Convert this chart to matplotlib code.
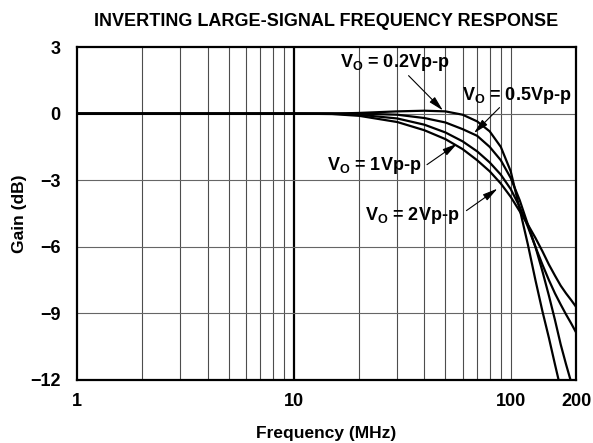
import numpy as np
import matplotlib.pyplot as plt

plt.rcParams['font.family'] = ['Liberation Sans', 'DejaVu Sans']
plt.rcParams['font.weight'] = 'bold'
plt.rcParams['mathtext.fontset'] = 'custom'
plt.rcParams['mathtext.rm'] = 'Liberation Sans:bold'
plt.rcParams['mathtext.default'] = 'rm'

# frequency points (MHz) and gain (dB)
freq = [1, 10, 15, 20, 30, 40, 50, 60, 70, 80, 90, 100, 110, 120, 130, 140, 150, 160, 170, 180, 190, 200]
g_02 = [0, 0, 0, 0.03, 0.1, 0.13, 0.1, -0.05, -0.35, -0.8, -1.5, -2.6, -4.3, -5.9, -7.5, -8.9, -10.1, -11.3, -12.4, -13.4, -14.4, -15.3]
g_05 = [0, 0, 0, 0, -0.05, -0.2, -0.4, -0.7, -1.0, -1.5, -2.1, -2.9, -3.9, -5.0, -6.0, -7.1, -8.2, -9.3, -10.4, -11.3, -12.1, -12.9]
g_1 = [0, 0, 0, -0.05, -0.22, -0.5, -0.85, -1.25, -1.7, -2.2, -2.75, -3.4, -4.2, -5.1, -6.0, -6.8, -7.5, -8.1, -8.6, -9.05, -9.45, -9.85]
g_2 = [0, 0, -0.02, -0.1, -0.38, -0.75, -1.15, -1.6, -2.1, -2.6, -3.15, -3.75, -4.4, -5.0, -5.6, -6.2, -6.8, -7.3, -7.75, -8.1, -8.4, -8.7]

xticks = [1, 10, 100, 200]
xtick_labels = ['1', '10', '100', '200']
yticks = [3, 0, -3, -6, -9, -12]
ytick_labels = ['3', '0', '\u22123', '\u22126', '\u22129', '\u221212']

# label text, label position, arrow tail, arrow tip
labels = ['V$_\\mathrm{O}$ = 0.2Vp-p', 'V$_\\mathrm{O}$ = 0.5Vp-p',
          'V$_\\mathrm{O}$ = 1Vp-p', 'V$_\\mathrm{O}$ = 2Vp-p']
label_xy = [(29, 2.3), (107, 0.81), (23.5, -2.34), (35, -4.6)]
arrow_from = [(33.8, 1.71), (88.8, 0.27), (41.1, -2.3), (62.5, -4.37)]
arrow_to = [(48.7, 0.14), (67.7, -0.88), (56.7, -1.35), (86.9, -3.38)]

fig = plt.figure(figsize=(5.93, 4.43), dpi=100)
ax = fig.add_axes([77/593, 1-380/443, (576-77)/593, (380-47)/443])
ax.set_xscale('log')
ax.set_xlim(1, 200)
ax.set_ylim(-12, 3)

# grid
for d in [1, 10]:
    for m in range(2, 10):
        ax.axvline(d*m, color='0.3', lw=0.8, zorder=1)
ax.axvline(10, color='black', lw=1.6, zorder=1)
ax.axvline(100, color='0.3', lw=0.8, zorder=1)
for y in [0, -3, -6, -9]:
    ax.axhline(y, color='0.4', lw=0.8, zorder=1)

for g in [g_02, g_05, g_1, g_2]:
    ax.plot(freq, g, color='black', lw=1.6, zorder=3)

for txt, xy, a0, a1 in zip(labels, label_xy, arrow_from, arrow_to):
    ax.text(xy[0], xy[1], txt, ha='center', va='center', fontsize=13,
            fontweight='bold', zorder=5)
    ax.annotate('', xy=a1, xytext=a0,
                arrowprops=dict(arrowstyle='-|>,head_length=0.9,head_width=0.22',
                                color='black', lw=0.8, shrinkA=0, shrinkB=0),
                zorder=5)

ax.set_xticks(xticks)
ax.set_xticklabels(xtick_labels)
ax.set_yticks(yticks)
ax.set_yticklabels(ytick_labels)
ax.minorticks_off()
ax.tick_params(length=0, labelsize=13)
ax.tick_params(axis='x', pad=9)
ax.tick_params(axis='y', pad=12)
for s in ax.spines.values():
    s.set_linewidth(1.6)

ax.set_xlabel('Frequency (MHz)', fontsize=12.5, fontweight='bold', labelpad=12)
ax.set_ylabel('Gain (dB)', fontsize=12.5, fontweight='bold')
ax.yaxis.set_label_coords(-50/499, 0.5)
fig.text((77+576)/2/593, 1-22/443, 'INVERTING LARGE-SIGNAL FREQUENCY RESPONSE',
         ha='center', va='center', fontsize=13, fontweight='bold')

plt.savefig('out.png', dpi=100)
